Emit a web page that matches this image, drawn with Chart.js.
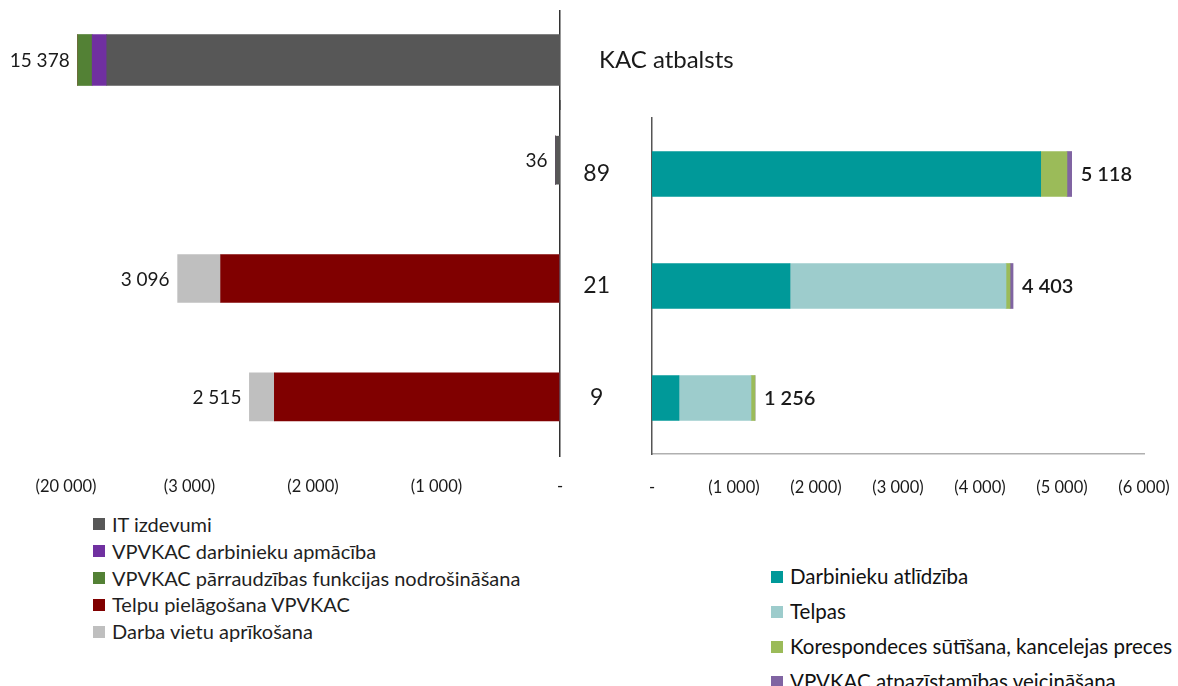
<!DOCTYPE html>
<html>
<head>
<meta charset="utf-8">
<script src="https://cdn.jsdelivr.net/npm/chart.js@4.4.0/dist/chart.umd.min.js"></script>
<style>
  body { margin: 0; background: #fff; width: 1178px; height: 686px; position: relative; overflow: hidden; font-family: Lato, sans-serif; }
  .box { position: absolute; }
  .legend { position: absolute; color: #1f1f1f; }
  .legend div { white-space: nowrap; display: flex; align-items: center; }
  .legend span.sw { display: inline-block; width: 12px; height: 12px; margin-right: 7px; }
</style>
</head>
<body>

<div class="box" style="left:0;top:10px;width:760px;height:100px"><canvas id="itChart"></canvas></div>
<div class="box" style="left:0;top:100px;width:600px;height:400px"><canvas id="leftChart"></canvas></div>
<div class="box" style="left:560px;top:110px;width:618px;height:400px"><canvas id="rightChart"></canvas></div>

<div class="legend" id="leftLegend" style="left:93px;top:511px;font-size:20px;line-height:26.8px"></div>
<div class="legend" id="rightLegend" style="left:771px;top:559px;font-size:20.5px;line-height:35px;color:#111"></div>

<script>
// ---- data ----
var leftRows = ['KAC atbalsts', '89', '21', '9'];
var itCosts = [14450, 36, 0, 0];
var trainingCosts = [465, 0, 0, 0];
var supervisionCosts = [463, 0, 0, 0];
var premisesFitout = [0, 0, 2748, 2313];
var workplaceCosts = [0, 0, 348, 202];

var rightRows = ['89', '21', '9'];
var salaries = [4740, 1683, 329];
var premises = [0, 2634, 878];
var postAndStationery = [320, 49, 49];
var promotion = [58, 37, 0];

var leftSeries = ['IT izdevumi', 'VPVKAC darbinieku apmācība', 'VPVKAC pārraudzības funkcijas nodrošināšana', 'Telpu pielāgošana VPVKAC', 'Darba vietu aprīkošana'];
var rightSeries = ['Darbinieku atlīdzība', 'Telpas', 'Korespondeces sūtīšana, kancelejas preces', 'VPVKAC atpazīstamības veicināšana'];

// left axis is broken: last tick stands for 20 000
var leftTickLabels = ['-', '(1 000)', '(2 000)', '(3 000)', '(20 000)'];
var rightTickLabels = ['-', '(1 000)', '(2 000)', '(3 000)', '(4 000)', '(5 000)', '(6 000)'];

var leftColors = ['#575757', '#7030a0', '#538135', '#800000', '#bfbfbf'];
var rightColors = ['#009999', '#9dcccc', '#9bbb59', '#8064a2'];

var FONT = 'Lato, sans-serif';
var TEXT = '#1a1a1a';

function fmt(n) {
  return String(Math.round(n)).replace(/\B(?=(\d{3})+(?!\d))/g, ' ');
}

// writes the row totals at the end of each stacked bar
var totalsPlugin = {
  id: 'totals',
  afterDatasetsDraw: function(chart, args, opts) {
    var ctx = chart.ctx;
    var xs = chart.scales.x, ys = chart.scales.y;
    ctx.save();
    ctx.font = opts.weight + ' ' + opts.size + 'px ' + FONT;
    ctx.fillStyle = TEXT;
    ctx.textBaseline = 'middle';
    ctx.textAlign = opts.side === 'left' ? 'right' : 'left';
    chart.data.labels.forEach(function(lbl, i) {
      var total = chart.data.datasets.reduce(function(s, ds) { return s + ds.data[i]; }, 0);
      var x = xs.getPixelForValue(total);
      var y = ys.getPixelForValue(i);
      ctx.fillText(fmt(total), opts.side === 'left' ? x - opts.gap : x + opts.gap, y + 1);
    });
    ctx.restore();
  }
};

// fixed axis sizes; drop the extra padding chart.js adds for tick labels
function fixSize(w, h) {
  return function(s) {
    if (w !== null) s.width = w;
    if (h !== null) s.height = h;
    s.paddingTop = 0; s.paddingBottom = 0;
    s.paddingLeft = 0; s.paddingRight = 0;
  };
}

function makeSets(names, colors, arrays, from, to) {
  return names.map(function(name, k) {
    return {
      label: name,
      data: arrays[k].slice(from, to),
      backgroundColor: colors[k],
      borderWidth: 0
    };
  });
}

var leftArrays = [itCosts, trainingCosts, supervisionCosts, premisesFitout, workplaceCosts];
var rightArrays = [salaries, premises, postAndStationery, promotion];

// top row (KAC atbalsts), drawn to its own scale because of the axis break
new Chart(document.getElementById('itChart'), {
  type: 'bar',
  data: { labels: leftRows.slice(0, 1), datasets: makeSets(leftSeries, leftColors, leftArrays, 0, 1) },
  plugins: [totalsPlugin],
  options: {
    indexAxis: 'y',
    responsive: true,
    maintainAspectRatio: false,
    animation: false,
    barThickness: 51,
    layout: { padding: { left: 66, top: 0, bottom: 0, right: 0 } },
    plugins: {
      legend: { display: false },
      tooltip: { enabled: false },
      totals: { side: 'left', gap: 8, size: 19, weight: 'normal' }
    },
    scales: {
      x: {
        stacked: true, reverse: true, min: 0, max: 15750,
        grid: { display: false, drawTicks: false },
        border: { display: false },
        ticks: { display: false },
        afterFit: fixSize(null, 0)
      },
      y: {
        stacked: true,
        position: 'right',
        grid: { display: false, drawTicks: false },
        border: { display: true, color: '#333', width: 1.5 },
        ticks: { color: TEXT, font: { family: FONT, size: 24 }, padding: 39, crossAlign: 'near' },
        afterFit: fixSize(200, null)
      }
    }
  }
});

// remaining rows on the left
new Chart(document.getElementById('leftChart'), {
  type: 'bar',
  data: { labels: leftRows.slice(1), datasets: makeSets(leftSeries, leftColors, leftArrays, 1, 4) },
  plugins: [totalsPlugin],
  options: {
    indexAxis: 'y',
    responsive: true,
    maintainAspectRatio: false,
    animation: false,
    barThickness: 48,
    layout: { padding: { left: 66, top: 1, bottom: 0, right: 0 } },
    plugins: {
      legend: { display: false },
      tooltip: { enabled: false },
      totals: { side: 'left', gap: 8, size: 19, weight: 'normal' }
    },
    scales: {
      x: {
        stacked: true, reverse: true, min: 0, max: 4000,
        grid: { display: false, drawTicks: false },
        border: { display: false },
        ticks: {
          stepSize: 1000, maxRotation: 0, color: TEXT, padding: 21,
          font: { family: FONT, size: 16.5 },
          callback: function(v) { return leftTickLabels[Math.round(v / 1000)]; }
        },
        afterFit: fixSize(null, 44)
      },
      y: {
        stacked: true,
        position: 'right',
        grid: { display: false, drawTicks: false },
        border: { display: true, color: '#333', width: 1.5 },
        ticks: { display: false },
        afterFit: fixSize(40, null)
      }
    }
  }
});

new Chart(document.getElementById('rightChart'), {
  type: 'bar',
  data: { labels: rightRows, datasets: makeSets(rightSeries, rightColors, rightArrays, 0, 3) },
  plugins: [totalsPlugin],
  options: {
    indexAxis: 'y',
    responsive: true,
    maintainAspectRatio: false,
    animation: false,
    barThickness: 45,
    layout: { padding: { left: 0, top: 8, bottom: 0, right: 34 } },
    plugins: {
      legend: { display: false },
      tooltip: { enabled: false },
      totals: { side: 'right', gap: 9, size: 20, weight: '600' }
    },
    scales: {
      x: {
        stacked: true, min: 0, max: 6000,
        grid: { display: false, drawTicks: false },
        border: { display: true, color: '#b0b0b0', width: 1.5 },
        ticks: {
          stepSize: 1000, maxRotation: 0, color: TEXT, padding: 24,
          font: { family: FONT, size: 16.5 },
          callback: function(v) { return rightTickLabels[Math.round(v / 1000)]; }
        },
        afterFit: fixSize(null, 56)
      },
      y: {
        stacked: true,
        grid: { display: false, drawTicks: false },
        border: { display: true, color: '#555', width: 1.5 },
        ticks: { color: TEXT, font: { family: FONT, size: 23 }, padding: 42, crossAlign: 'center' },
        afterFit: fixSize(92, null)
      }
    }
  }
});

// legends built from the series lists
function buildLegend(id, names, colors) {
  var el = document.getElementById(id);
  names.forEach(function(name, k) {
    var row = document.createElement('div');
    var sw = document.createElement('span');
    sw.className = 'sw';
    sw.style.background = colors[k];
    row.appendChild(sw);
    row.appendChild(document.createTextNode(name));
    el.appendChild(row);
  });
}
buildLegend('leftLegend', leftSeries, leftColors);
buildLegend('rightLegend', rightSeries, rightColors);
</script>
</body>
</html>
